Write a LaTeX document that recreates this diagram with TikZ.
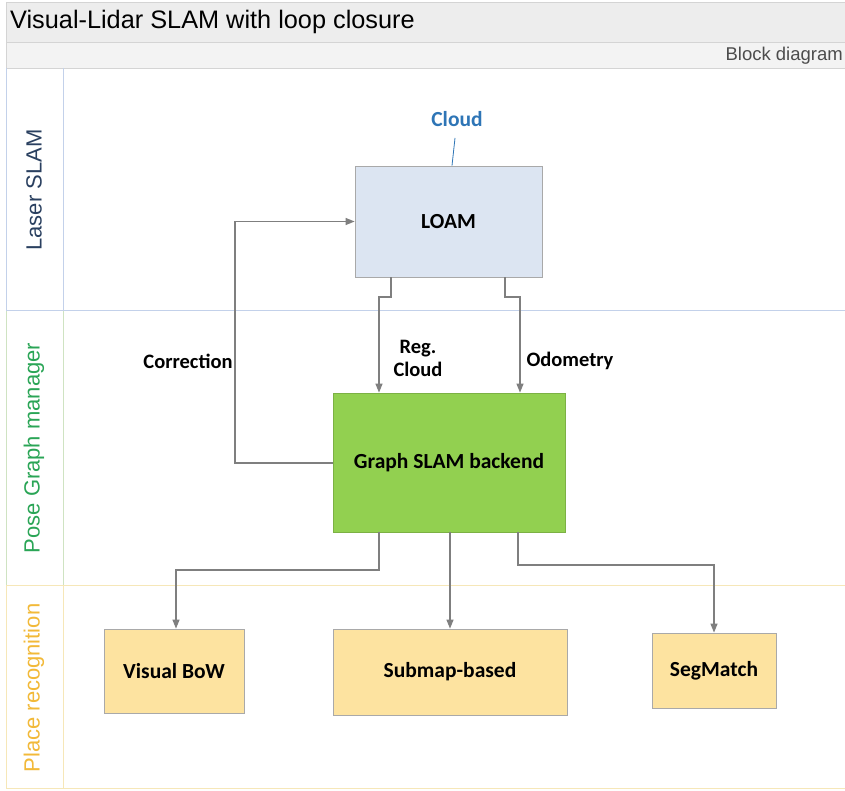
\documentclass[tikz,border=0pt]{standalone}
\usepackage{fontspec}
\setmainfont{Liberation Sans}
\newfontfamily\boxfont{Carlito}
\usetikzlibrary{arrows.meta,calc}
\definecolor{bandgray}{HTML}{EDEDED}
\definecolor{bandline}{HTML}{D4D4D4}
\definecolor{laneblue}{HTML}{C3D1EA}
\definecolor{lanegreen}{HTML}{CFE3C2}
\definecolor{laneyellow}{HTML}{F6E7B8}
\definecolor{txtblue}{HTML}{2A4060}
\definecolor{txtgreen}{HTML}{2AA556}
\definecolor{txtyellow}{HTML}{F2B938}
\definecolor{loamfill}{HTML}{DCE5F2}
\definecolor{graphfill}{HTML}{92D050}
\definecolor{placefill}{HTML}{FDE3A0}
\definecolor{boxline}{HTML}{A9A9A9}
\definecolor{arrgray}{HTML}{7F7F7F}
\definecolor{cloudblue}{HTML}{2E75B6}
\tikzset{
  blk/.style={draw=boxline, line width=0.8pt, inner sep=0pt, align=center,
    font=\boxfont\bfseries\fontsize{21.5}{25}\selectfont},
  arr/.style={draw=arrgray, line width=1.2pt, -{Triangle[length=9pt,width=7pt]}},
  lbl/.style={font=\boxfont\bfseries\fontsize{20.5}{23}\selectfont, align=center},
  lanelbl/.style={rotate=90, font=\fontsize{22}{25}\selectfont}
}
\begin{document}
\begin{tikzpicture}[x=1pt,y=-1pt]
\useasboundingbox (0,0) rectangle (845,791);
\fill[white] (0,0) rectangle (845,791);
% title bands
\fill[bandgray] (6,2) rectangle (845,42);
\fill[bandgray!70!white] (6,42) rectangle (845,68);
\draw[bandline] (6,2) -- (845,2);
\draw[bandline] (6,42) -- (845,42);
\draw[bandline] (6,68) -- (845,68);
\draw[bandline] (6,2) -- (6,68);
\node[anchor=west, inner sep=0pt, font=\fontsize{25.3}{28}\selectfont] (title) at (10,22) {Visual-Lidar SLAM with loop closure};
\node[anchor=east, inner sep=0pt, font=\fontsize{18.5}{22}\selectfont, text=black!70] (sub) at (843,56) {Block diagram};
% lanes
\draw[laneblue, line width=0.9pt] (6,68) -- (6,310) (63,68) -- (63,310) (6,310) -- (845,310);
\draw[lanegreen, line width=0.9pt] (6,310) -- (6,585) (63,310) -- (63,585);
\draw[laneyellow, line width=0.9pt] (6,585) -- (845,585) (6,585) -- (6,788) (63,585) -- (63,788) (6,788) -- (845,788);
\draw[laneblue, line width=0.9pt] (6,310) -- (845,310);
\node[lanelbl, text=txtblue] (l1) at (34,190) {Laser SLAM};
\node[lanelbl, text=txtgreen] (l2) at (34,448) {Pose Graph manager};
\node[lanelbl, text=txtyellow] (l3) at (34,688) {Place recognition};
% blocks
\node[blk, fill=loamfill, minimum width=187pt, minimum height=111pt] (loam) at (448.5,221.5) {LOAM};
\node[blk, fill=graphfill, draw=graphfill!85!black, minimum width=232pt, minimum height=139pt] (graph) at (449,462.5) {Graph SLAM backend};
\node[blk, fill=placefill, minimum width=140pt, minimum height=84pt] (bow) at (174,671) {Visual BoW};
\node[blk, fill=placefill, minimum width=234pt, minimum height=86pt] (submap) at (450,672) {Submap-based};
\node[blk, fill=placefill, minimum width=124pt, minimum height=75pt] (seg) at (714,670.5) {SegMatch};
% cloud label
\node[font=\boxfont\bfseries\fontsize{21.5}{24}\selectfont, text=cloudblue] (cloud) at (457,119) {Cloud};
\coordinate (cl1) at (455,138);
\draw[cloudblue, line width=0.8pt] (cl1) -- (loam.north -| 452,0);
% connectors
\coordinate (a1) at (391,297); \coordinate (a2) at (379,297);
\draw[arr] (loam.south -| a1) -- (a1) -- (a2) -- (graph.north -| a2);
\coordinate (b1) at (505,297); \coordinate (b2) at (520,297);
\draw[arr] (loam.south -| b1) -- (b1) -- (b2) -- (graph.north -| b2);
\coordinate (c1) at (235,463); \coordinate (c2) at (235,221.5);
\draw[arr] (graph.west |- c1) -- (c1) -- (c2) -- (loam.west);
\coordinate (d1) at (379,570); \coordinate (d2) at (176,570);
\draw[arr] (graph.south -| d1) -- (d1) -- (d2) -- (bow.north -| d2);
\coordinate (e1) at (450,570);
\draw[arr] (graph.south -| e1) -- (submap.north -| e1);
\coordinate (f1) at (518,565); \coordinate (f2) at (714,565);
\draw[arr] (graph.south -| f1) -- (f1) -- (f2) -- (seg.north -| f2);
% labels
\node[lbl] (corr) at (188,361) {Correction};
\node[lbl] (reg) at (418,358) {Reg.\\Cloud};
\node[lbl] (odo) at (570,361) {Odometry};
\end{tikzpicture}
\end{document}
